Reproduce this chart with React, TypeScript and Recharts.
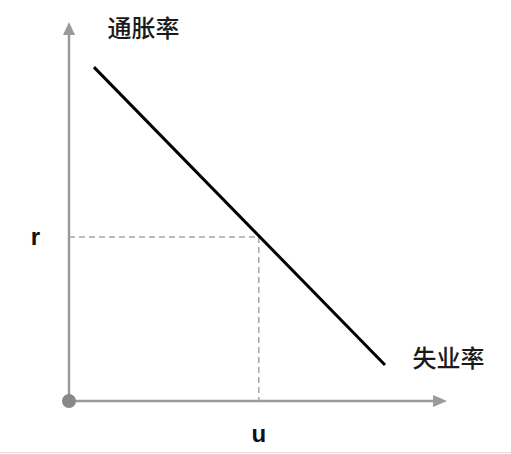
import React from 'react';
import {
    ComposedChart,
    Line,
    Scatter,
    XAxis,
    YAxis,
    ReferenceLine,
    ReferenceDot,
} from 'recharts';

// Phillips curve: inflation vs unemployment
const curve = [
    { x: 6.6, y: 88.1 },
    { x: 83.6, y: 9.5 },
];
const uValue = 50.2;
const rValue = 43.3;
const xTicks = [uValue];
const yTicks = [rValue];
const xTickLabels = ['u'];
const yTickLabels = ['r'];
const axisEnd = [{ x: 0, y: 100 }];
const xAxisEnd = [{ x: 100, y: 0 }];
const yTitle = { x: 19.7, y: 98.4, text: '通胀率' };
const xTitle = { x: 100.4, y: 11.3, text: '失业率' };

const AXIS_GRAY = '#9a9a9a';
const CJK = '"Noto Sans CJK SC", "Noto Sans", sans-serif';
const LATIN = '"Liberation Sans", Arial, sans-serif';

const UpArrow = (props: any) => {
    const { cx, cy } = props;
    return <polygon points={`${cx},${cy} ${cx - 6},${cy + 13} ${cx + 6},${cy + 13}`} fill={AXIS_GRAY} />;
};

const RightArrow = (props: any) => {
    const { cx, cy } = props;
    return <polygon points={`${cx},${cy} ${cx - 14},${cy - 6} ${cx - 14},${cy + 6}`} fill={AXIS_GRAY} />;
};

export default function App() {
    return (
        <div style={{ position: 'absolute', left: 0, top: 0, width: 511, height: 454, background: '#fff' }}>
            <ComposedChart width={511} height={454} margin={{ top: 22, right: 64, left: 0, bottom: 0 }}>
                <XAxis
                    type="number"
                    dataKey="x"
                    domain={[0, 100]}
                    ticks={xTicks}
                    tickFormatter={(_v, i) => xTickLabels[i]}
                    axisLine={false}
                    tickLine={false}
                    tickSize={0}
                    tickMargin={24}
                    height={53}
                    tick={{ fill: '#111', fontSize: 24, fontWeight: 700, fontFamily: LATIN }}
                />
                <YAxis
                    type="number"
                    dataKey="y"
                    domain={[0, 100]}
                    ticks={yTicks}
                    tickFormatter={(_v, i) => yTickLabels[i]}
                    axisLine={false}
                    tickLine={false}
                    tickSize={0}
                    tickMargin={29}
                    width={69}
                    tick={{ fill: '#111', fontSize: 24, fontWeight: 700, fontFamily: LATIN }}
                />
                <ReferenceLine
                    segment={[{ x: 0, y: 0 }, { x: 0, y: 97 }]}
                    stroke={AXIS_GRAY}
                    strokeWidth={2.5}
                />
                <ReferenceLine
                    segment={[{ x: 0, y: 0 }, { x: 97, y: 0 }]}
                    stroke={AXIS_GRAY}
                    strokeWidth={2.5}
                />
                <ReferenceLine
                    segment={[{ x: 0, y: rValue }, { x: uValue, y: rValue }]}
                    stroke="#a5a5a5"
                    strokeWidth={1.5}
                    strokeDasharray="6 4"
                />
                <ReferenceLine
                    segment={[{ x: uValue, y: rValue }, { x: uValue, y: 0 }]}
                    stroke="#a5a5a5"
                    strokeWidth={1.5}
                    strokeDasharray="6 4"
                />
                <Scatter data={axisEnd} shape={<UpArrow />} isAnimationActive={false} />
                <Scatter data={xAxisEnd} shape={<RightArrow />} isAnimationActive={false} />
                <ReferenceDot x={0} y={0} r={7} fill="#888" stroke="none" ifOverflow="visible" />
                <Line
                    data={curve}
                    dataKey="y"
                    stroke="#000"
                    strokeWidth={3}
                    dot={false}
                    activeDot={false}
                    isAnimationActive={false}
                />
                <ReferenceDot
                    x={yTitle.x}
                    y={yTitle.y}
                    r={0}
                    ifOverflow="visible"
                    label={{ value: yTitle.text, position: 'center', fontSize: 24, fontWeight: 500, fill: '#1a1a1a', fontFamily: CJK }}
                />
                <ReferenceDot
                    x={xTitle.x}
                    y={xTitle.y}
                    r={0}
                    ifOverflow="visible"
                    label={{ value: xTitle.text, position: 'center', fontSize: 24, fontWeight: 500, fill: '#1a1a1a', fontFamily: CJK }}
                />
            </ComposedChart>
            <div style={{ position: 'absolute', left: 0, top: 452, width: 511, height: 1, background: '#ddd' }} />
        </div>
    );
}
